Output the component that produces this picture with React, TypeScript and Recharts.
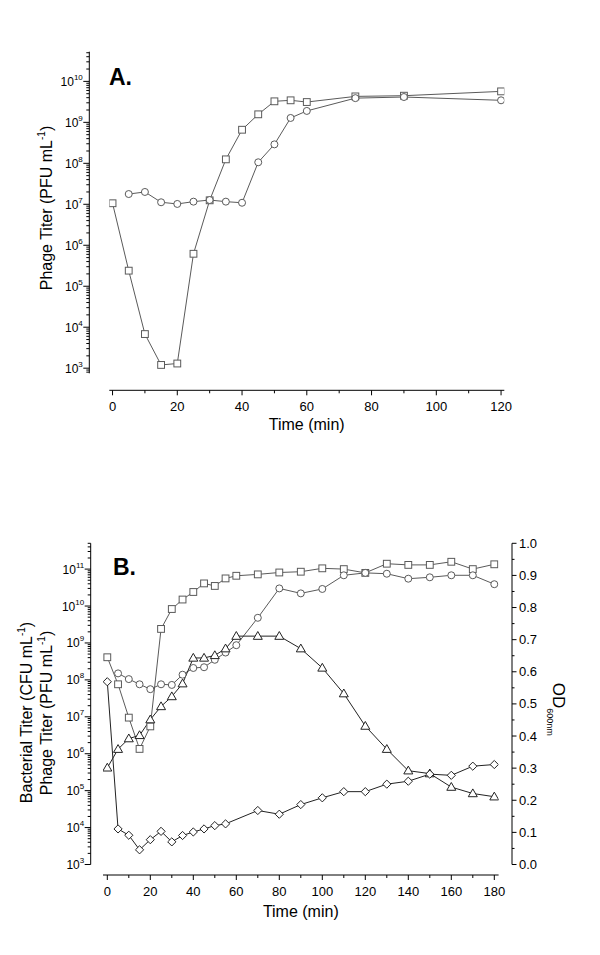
import { Line, LineChart, XAxis, YAxis } from "recharts";

// Panel A: phage titer (PFU/mL)
const timeSquaresA = [0, 5, 10, 15, 20, 25, 30, 35, 40, 45, 50, 55, 60, 75, 90, 120];
const titerSquaresA = [1.06e7, 2.4e5, 6.8e3, 1.2e3, 1.3e3, 6.2e5, 1.25e7, 1.25e8, 6.6e8, 1.57e9, 3.26e9, 3.45e9, 3.13e9, 4.3e9, 4.47e9, 5.7e9];
const timeCirclesA = [5, 10, 15, 20, 25, 30, 35, 40, 45, 50, 55, 60, 75, 90, 120];
const titerCirclesA = [1.78e7, 2.0e7, 1.12e7, 1.02e7, 1.16e7, 1.27e7, 1.16e7, 1.09e7, 1.06e8, 2.9e8, 1.28e9, 1.9e9, 3.9e9, 4.15e9, 3.45e9];

// Panel B: titers (left, log) and OD600 (right)
const timeSquaresB = [0, 5, 10, 15, 20, 25, 30, 35, 40, 45, 50, 55, 60, 70, 80, 90, 100, 110, 120, 130, 140, 150, 160, 170, 180];
const titerSquaresB = [4.1e8, 7.6e7, 9.5e6, 1.35e6, 5.5e6, 2.4e9, 8.3e9, 1.5e10, 2.4e10, 4.1e10, 3.5e10, 5.6e10, 6.6e10, 7.2e10, 8.1e10, 8.5e10, 1.05e11, 1.0e11, 7.9e10, 1.4e11, 1.3e11, 1.3e11, 1.58e11, 1.0e11, 1.35e11];
const timeCirclesB = [5, 10, 15, 20, 25, 30, 35, 40, 45, 50, 55, 60, 70, 80, 90, 100, 110, 120, 130, 140, 150, 160, 170, 180];
const titerCirclesB = [1.5e8, 1.05e8, 7.6e7, 5.6e7, 7.6e7, 7.3e7, 1.38e8, 2.1e8, 2.2e8, 3.5e8, 5.5e8, 8.7e8, 4.8e9, 3.0e10, 2.2e10, 2.9e10, 6.8e10, 7.9e10, 7.5e10, 5.5e10, 6.0e10, 6.8e10, 6.8e10, 3.9e10];
const timeTrianglesB = [0, 5, 10, 15, 20, 25, 30, 35, 40, 45, 50, 55, 60, 70, 80, 90, 100, 110, 120, 130, 140, 150, 160, 170, 180];
const odTrianglesB = [0.301, 0.359, 0.392, 0.402, 0.451, 0.492, 0.523, 0.563, 0.643, 0.643, 0.651, 0.672, 0.711, 0.711, 0.711, 0.672, 0.612, 0.532, 0.431, 0.359, 0.292, 0.283, 0.241, 0.221, 0.211];
const timeDiamondsB = [0, 5, 10, 15, 20, 25, 30, 35, 40, 45, 50, 55, 70, 80, 90, 100, 110, 120, 130, 140, 150, 160, 170, 180];
const titerDiamondsB = [8.9e7, 9.2e3, 6.2e3, 2.5e3, 4.7e3, 7.9e3, 4.1e3, 6.1e3, 7.6e3, 9.2e3, 1.13e4, 1.26e4, 2.9e4, 2.3e4, 4.2e4, 6.4e4, 9.4e4, 9.4e4, 1.5e5, 1.8e5, 2.8e5, 2.6e5, 4.6e5, 5.1e5];

// ticks
const decadesA = [2, 3, 4, 5, 6, 7, 8, 9, 10];
const decadesB = [3, 4, 5, 6, 7, 8, 9, 10, 11];
const timeTicksA = [0, 10, 20, 30, 40, 50, 60, 70, 80, 90, 100, 110, 120];
const timeTicksB = [0, 10, 20, 30, 40, 50, 60, 70, 80, 90, 100, 110, 120, 130, 140, 150, 160, 170, 180];
const odTicks = [0, 0.05, 0.1, 0.15, 0.2, 0.25, 0.3, 0.35, 0.4, 0.45, 0.5, 0.55, 0.6, 0.65, 0.7, 0.75, 0.8, 0.85, 0.9, 0.95, 1.0];

const domainA: [number, number] = [750, 5.3e10];
const domainB: [number, number] = [1e3, 5e11];

const FONT = "'Liberation Sans', Arial, sans-serif";

const zip = (ts: number[], vs: number[]) => ts.map((t, i) => ({ t, v: vs[i] }));

function logTicks(decades: number[], [lo, hi]: [number, number]) {
  const out: number[] = [];
  decades.forEach((d) => {
    for (let m = 1; m <= 9; m++) {
      const v = m * Math.pow(10, d);
      if (v >= lo * 0.9999 && v <= hi * 1.0001) out.push(v);
    }
  });
  return out;
}

function LogTick(props: any) {
  const { x, y, payload } = props;
  const v = payload.value;
  const exp = Math.round(Math.log10(v));
  const major = Math.abs(v / Math.pow(10, exp) - 1) < 1e-6;
  if (!major) return <line x1={x} x2={x - 3} y1={y} y2={y} stroke="#000" />;
  return (
    <g>
      <line x1={x} x2={x - 6} y1={y} y2={y} stroke="#000" />
      <text x={x - 6.5} y={y + 4.5} textAnchor="end" fontSize={12} fontFamily={FONT} fill="#000">
        10
        <tspan dy={-6} fontSize={8}>{exp}</tspan>
      </text>
    </g>
  );
}

function TimeTick(props: any) {
  const { x, y, payload } = props;
  const major = payload.value % 20 === 0;
  return (
    <g>
      <line x1={x} x2={x} y1={y} y2={y + (major ? 5 : 3)} stroke="#000" />
      {major && (
        <text x={x} y={y + 20.5} textAnchor="middle" fontSize={13} fontFamily={FONT} fill="#000">
          {payload.value}
        </text>
      )}
    </g>
  );
}

function OdTick(props: any) {
  const { x, y, payload } = props;
  const major = Math.abs(payload.value * 10 - Math.round(payload.value * 10)) < 1e-6;
  return (
    <g>
      <line x1={x} x2={x + (major ? 4.5 : 2.5)} y1={y} y2={y} stroke="#000" />
      {major && (
        <text x={x + 7} y={y + 4.5} textAnchor="start" fontSize={13} fontFamily={FONT} fill="#000">
          {payload.value.toFixed(1)}
        </text>
      )}
    </g>
  );
}

const square = (color: string) => (p: any) => (
  <rect key={`s${p.index}`} x={p.cx - 3.4} y={p.cy - 3.4} width={6.8} height={6.8} fill="#fff" stroke={color} />
);
const circle = (color: string) => (p: any) => (
  <circle key={`c${p.index}`} cx={p.cx} cy={p.cy} r={3.5} fill="#fff" stroke={color} />
);
const triangle = (color: string) => (p: any) => (
  <polygon
    key={`t${p.index}`}
    points={`${p.cx},${p.cy - 4.6} ${p.cx - 4.5},${p.cy + 3.2} ${p.cx + 4.5},${p.cy + 3.2}`}
    fill="#fff"
    stroke={color}
  />
);
const diamond = (color: string) => (p: any) => (
  <polygon
    key={`d${p.index}`}
    points={`${p.cx},${p.cy - 4.1} ${p.cx + 4.1},${p.cy} ${p.cx},${p.cy + 4.1} ${p.cx - 4.1},${p.cy}`}
    fill="#fff"
    stroke={color}
  />
);

function LabelsA() {
  return (
    <g fontFamily={FONT} fill="#000">
      <text x={109} y={85} fontSize={23} fontWeight="bold">A.</text>
      <text x={51.5} y={208} fontSize={16} textAnchor="middle" transform="rotate(-90 51.5 208)">
        Phage Titer (PFU mL<tspan dy={-7} fontSize={10}>-1</tspan>
        <tspan dy={7}>)</tspan>
      </text>
      <text x={306.7} y={430} fontSize={16} textAnchor="middle">Time (min)</text>
    </g>
  );
}

function LabelsB() {
  return (
    <g fontFamily={FONT} fill="#000">
      <text x={113} y={105} fontSize={23} fontWeight="bold">B.</text>
      <text x={32.3} y={242.5} fontSize={16} textAnchor="middle" transform="rotate(-90 32.3 242.5)">
        Bacterial Titer (CFU mL<tspan dy={-7} fontSize={10}>-1</tspan>
        <tspan dy={7}>)</tspan>
      </text>
      <text x={51.7} y={243} fontSize={16} textAnchor="middle" transform="rotate(-90 51.7 243)">
        Phage Titer (PFU mL<tspan dy={-7} fontSize={10}>-1</tspan>
        <tspan dy={7}>)</tspan>
      </text>
      <text x={553} y={212.7} fontSize={17} transform="rotate(90 553 212.7)">
        OD<tspan dy={6} fontSize={9}>600nm</tspan>
      </text>
      <text x={300.8} y={447} fontSize={16} textAnchor="middle">Time (min)</text>
    </g>
  );
}

export default function App() {
  const gray = "#5a5a5a";
  const dark = "#222";
  return (
    <div style={{ position: "absolute", left: 0, top: 0, width: 600, height: 955, background: "#fff" }}>
      <div style={{ position: "absolute", left: 0, top: 0 }}>
        <LineChart width={600} height={470} margin={{ top: 51.7, right: 95.7, bottom: 39.7, left: 29.3 }}>
          <XAxis xAxisId="gap" type="number" domain={[0, 1]} height={17} axisLine={false} tick={false} tickLine={false} />
          <XAxis
            xAxisId="main"
            type="number"
            dataKey="t"
            domain={[-1, 121]}
            allowDataOverflow
            ticks={timeTicksA}
            interval={0}
            tick={<TimeTick />}
            tickLine={false}
            tickSize={0}
            tickMargin={0}
            height={40}
            axisLine={{ stroke: "#000" }}
          />
          <YAxis yAxisId="gap" type="number" domain={[0, 1]} width={20} axisLine={false} tick={false} tickLine={false} />
          <YAxis
            yAxisId="main"
            type="number"
            scale="log"
            domain={domainA}
            allowDataOverflow
            ticks={logTicks(decadesA, domainA)}
            interval={0}
            tick={<LogTick />}
            tickLine={false}
            tickSize={0}
            tickMargin={0}
            width={60}
            axisLine={{ stroke: "#000" }}
            label={() => <LabelsA />}
          />
          <Line xAxisId="main" yAxisId="main" data={zip(timeSquaresA, titerSquaresA)} dataKey="v" stroke={gray} strokeWidth={1} dot={square(gray)} activeDot={false} isAnimationActive={false} />
          <Line xAxisId="main" yAxisId="main" data={zip(timeCirclesA, titerCirclesA)} dataKey="v" stroke={gray} strokeWidth={1} dot={circle(gray)} activeDot={false} isAnimationActive={false} />
        </LineChart>
      </div>
      <div style={{ position: "absolute", left: 0, top: 470 }}>
        <LineChart width={600} height={485} margin={{ top: 73.3, right: 48, bottom: 40, left: 30.7 }}>
          <XAxis xAxisId="gap" type="number" domain={[0, 1]} height={10.5} axisLine={false} tick={false} tickLine={false} />
          <XAxis
            xAxisId="main"
            type="number"
            dataKey="t"
            domain={[-2, 182]}
            allowDataOverflow
            ticks={timeTicksB}
            interval={0}
            tick={<TimeTick />}
            tickLine={false}
            tickSize={0}
            tickMargin={0}
            height={40}
            axisLine={{ stroke: "#000" }}
          />
          <YAxis yAxisId="gap" type="number" domain={[0, 1]} width={12.3} axisLine={false} tick={false} tickLine={false} />
          <YAxis
            yAxisId="main"
            type="number"
            scale="log"
            domain={domainB}
            allowDataOverflow
            ticks={logTicks(decadesB, domainB)}
            interval={0}
            tick={<LogTick />}
            tickLine={false}
            tickSize={0}
            tickMargin={0}
            width={60}
            axisLine={{ stroke: "#000" }}
            label={() => <LabelsB />}
          />
          <YAxis yAxisId="gapR" orientation="right" type="number" domain={[0, 1]} width={13.4} axisLine={false} tick={false} tickLine={false} />
          <YAxis
            yAxisId="od"
            orientation="right"
            type="number"
            domain={[0, 1]}
            allowDataOverflow
            ticks={odTicks}
            interval={0}
            tick={<OdTick />}
            tickLine={false}
            tickSize={0}
            tickMargin={0}
            width={40}
            axisLine={{ stroke: "#000" }}
          />
          <Line xAxisId="main" yAxisId="main" data={zip(timeSquaresB, titerSquaresB)} dataKey="v" stroke={gray} strokeWidth={1} dot={square(gray)} activeDot={false} isAnimationActive={false} />
          <Line xAxisId="main" yAxisId="main" data={zip(timeCirclesB, titerCirclesB)} dataKey="v" stroke={gray} strokeWidth={1} dot={circle(gray)} activeDot={false} isAnimationActive={false} />
          <Line xAxisId="main" yAxisId="od" data={zip(timeTrianglesB, odTrianglesB)} dataKey="v" stroke={dark} strokeWidth={1} dot={triangle(dark)} activeDot={false} isAnimationActive={false} />
          <Line xAxisId="main" yAxisId="main" data={zip(timeDiamondsB, titerDiamondsB)} dataKey="v" stroke={dark} strokeWidth={1} dot={diamond(dark)} activeDot={false} isAnimationActive={false} />
        </LineChart>
      </div>
    </div>
  );
}
